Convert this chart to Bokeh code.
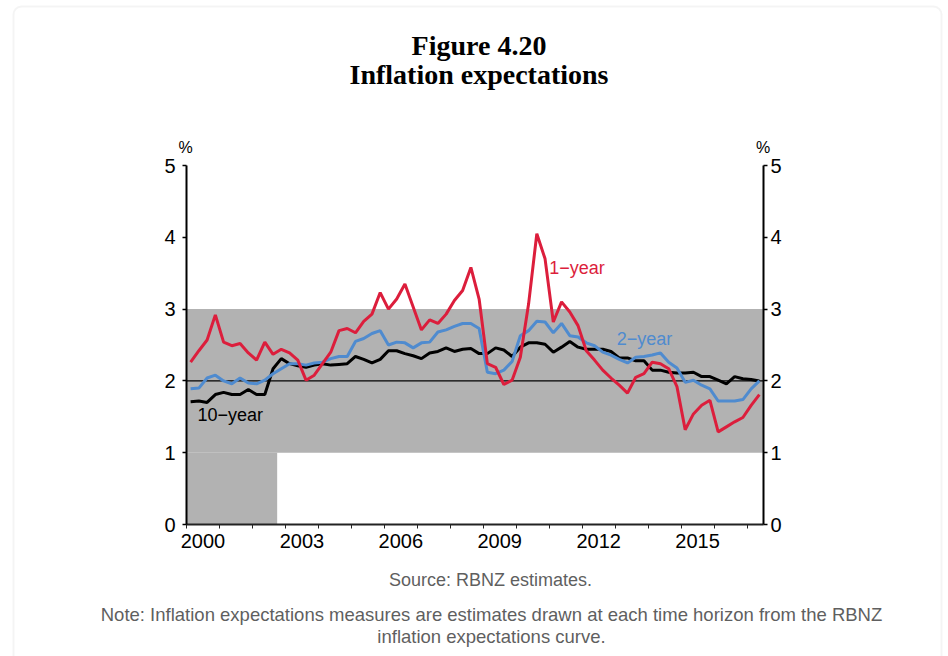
from bokeh.plotting import figure
from bokeh.models import (Range1d, LinearAxis, FixedTicker, CustomJSTickFormatter,
                          Label, BoxAnnotation, ColumnDataSource)
from bokeh.embed import file_html
from bokeh.resources import INLINE

# ---------------- data ----------------
# quarterly observations, 2000Q1 .. 2017Q2
quarters = [f"{y}Q{q}" for y in range(2000, 2018) for q in range(1, 5)][:70]

one_year = [2.26, 2.42, 2.57, 2.92, 2.54, 2.49, 2.52, 2.39, 2.29, 2.54, 2.37, 2.44,
            2.39, 2.29, 2.01, 2.08, 2.24, 2.40, 2.70, 2.73, 2.67, 2.83, 2.93, 3.23,
            3.00, 3.14, 3.35, 3.03, 2.71, 2.85, 2.80, 2.93, 3.12, 3.26, 3.58,
            3.14, 2.24, 2.19, 1.95, 2.01, 2.33, 3.07, 4.05, 3.70, 2.82, 3.10, 2.96, 2.77,
            2.42, 2.29, 2.15, 2.04, 1.94, 1.83, 2.05, 2.10, 2.26, 2.24, 2.17, 1.92,
            1.32, 1.54, 1.66, 1.73, 1.29, 1.36, 1.43, 1.49, 1.66, 1.81]

two_year = [1.89, 1.90, 2.04, 2.08, 2.00, 1.96, 2.04, 1.97, 1.96, 2.01, 2.10, 2.17,
            2.24, 2.24, 2.22, 2.25, 2.26, 2.31, 2.34, 2.34,
            2.55, 2.59, 2.66, 2.70, 2.50, 2.54, 2.53, 2.46, 2.53, 2.54, 2.68, 2.71,
            2.76, 2.80, 2.80,
            2.73, 2.12, 2.10, 2.15, 2.27, 2.63, 2.70, 2.83, 2.82, 2.67, 2.80,
            2.63, 2.61, 2.53, 2.49, 2.40, 2.36, 2.30, 2.25, 2.33, 2.34, 2.36, 2.39,
            2.26, 2.18, 1.98, 2.01, 1.94, 1.89, 1.72, 1.72, 1.72, 1.74, 1.89, 2.00]

ten_year = [1.71, 1.72, 1.70, 1.81, 1.84, 1.81, 1.81, 1.88, 1.81, 1.81, 2.17, 2.31,
            2.24, 2.21, 2.19, 2.22, 2.24, 2.22, 2.23, 2.24,
            2.34, 2.30, 2.25, 2.30, 2.42, 2.42, 2.38, 2.35, 2.31, 2.39, 2.41, 2.46,
            2.41, 2.44, 2.45,
            2.38, 2.38, 2.46, 2.43, 2.34, 2.47, 2.53, 2.53, 2.51, 2.40, 2.47,
            2.55, 2.47, 2.44, 2.44, 2.44, 2.41, 2.32, 2.32, 2.28, 2.28, 2.15, 2.15,
            2.12, 2.11, 2.11, 2.12, 2.06, 2.06, 2.01, 1.96, 2.06, 2.03, 2.02, 2.00]

# inflation target bands (PTA): 0-3% until Sep 2002, then 1-3%
band_left = [2000.0, 2000.0]
band_right = [2002.75, 2017.5]
band_bottom = [0.0, 1.0]
band_top = [1.0, 3.0]

year_labels = [2000, 2003, 2006, 2009, 2012, 2015]
y_ticks = [0, 1, 2, 3, 4, 5]
X0, X1 = 2000.0, 2017.5
Y0, Y1 = 0.0, 5.0

# mid-quarter decimal dates
t = [int(s[:4]) + (int(s[-1]) - 1) * 0.25 + 0.125 for s in quarters]
src = ColumnDataSource(dict(t=t, one=one_year, two=two_year, ten=ten_year))

RED = "#DC1E3C"
BLUE = "#4F8BCF"
GREY = "#B2B2B2"
SANS = "Liberation Sans"

# ---------------- layout geometry (canvas pixels) ----------------
W, H = 948, 656
AX_L, AX_R, AX_T, AX_B = 186, 763, 165, 524   # axes box on the canvas
kx = (AX_R - AX_L) / (X1 - X0)
ky = (AX_B - AX_T) / (Y1 - Y0)
xr = Range1d(X0 - AX_L / kx, X1 + (W - AX_R) / kx)
yr_ = Range1d(Y0 - (H - AX_B) / ky, Y1 + AX_T / ky)

p = figure(width=W, height=H, output_backend="svg", toolbar_location=None,
           x_range=xr, y_range=yr_, min_border=0,
           x_axis_location=None, y_axis_location=None)
p.title.visible = False
p.outline_line_color = None
p.xgrid.visible = False
p.ygrid.visible = False
p.background_fill_color = "white"
p.border_fill_color = "white"

# card border
p.add_layout(BoxAnnotation(left=13, right=941, top=H - 6, bottom=-60,
                           left_units="screen", right_units="screen",
                           top_units="screen", bottom_units="screen",
                           fill_color=None, fill_alpha=0, line_color="#d9d9d9",
                           line_width=2, border_radius=8, level="underlay"))

# band
p.quad(left=band_left, right=band_right, bottom=band_bottom, top=band_top,
       fill_color=GREY, line_color=None)
# 2% line
p.segment(x0=[X0], x1=[X1], y0=[2], y1=[2], line_color="black", line_width=1.2)

p.line("t", "ten", source=src, line_color="black", line_width=3)
p.line("t", "two", source=src, line_color=BLUE, line_width=3)
p.line("t", "one", source=src, line_color=RED, line_width=3)

# ---------------- axes ----------------
def style_y(ax):
    ax.ticker = FixedTicker(ticks=y_ticks)
    ax.bounds = (Y0, Y1)
    ax.axis_line_width = 2
    ax.axis_line_color = "black"
    ax.major_tick_line_color = "black"
    ax.major_tick_line_width = 1.5
    ax.major_tick_out = 4
    ax.major_tick_in = 0
    ax.minor_tick_line_color = None
    ax.major_label_text_font = SANS
    ax.major_label_text_font_size = "20px"
    ax.major_label_text_color = "black"

yl = LinearAxis(fixed_location=X0)
style_y(yl)
yl.major_label_standoff = 7
p.add_layout(yl, "left")

yr = LinearAxis(fixed_location=X1)
style_y(yr)
yr.major_label_standoff = 3
p.add_layout(yr, "right")

xa = LinearAxis(fixed_location=Y0)
xa.bounds = (X0, X1)
xa.ticker = FixedTicker(ticks=[y + 0.5 for y in year_labels],
                        minor_ticks=list(range(2000, 2018)))
xa.formatter = CustomJSTickFormatter(code="return Math.floor(tick).toString();")
xa.axis_line_width = 2
xa.axis_line_color = "#222222"
xa.major_tick_line_color = None
xa.major_tick_out = 0
xa.major_tick_in = 0
xa.minor_tick_line_color = "#222222"
xa.minor_tick_line_width = 1
xa.minor_tick_out = 4
xa.minor_tick_in = 0
xa.major_label_standoff = 5
xa.major_label_text_font = SANS
xa.major_label_text_font_size = "20px"
xa.major_label_text_color = "black"
p.add_layout(xa, "below")

# ---------------- texts ----------------
def dlabel(x, y, text, color):
    p.add_layout(Label(x=x, y=y, text=text, text_color=color,
                       text_font=SANS, text_font_size="18px",
                       text_align="left", text_baseline="alphabetic"))

dlabel(2011.0, 3.57, "1\u2212year", RED)
dlabel(2013.05, 2.585, "2\u2212year", BLUE)
dlabel(2000.33, 1.52, "10\u2212year", "black")

def slabel(px, py, text, size, color="black", font=SANS, style="normal", align="center"):
    p.add_layout(Label(x=px, y=H - py, x_units="screen", y_units="screen",
                       text=text, text_color=color, text_font=font,
                       text_font_size=size, text_font_style=style,
                       text_align=align, text_baseline="alphabetic"))

slabel(478.5, 45, "Figure 4.20", "28px", font="Liberation Serif", style="bold")
slabel(478.5, 74, "Inflation expectations", "28px", font="Liberation Serif", style="bold")
slabel(185, 147, "%", "16px")
slabel(762.5, 147, "%", "16px")
slabel(490, 579, "Source: RBNZ estimates.", "18px", color="#5f5f5f")
slabel(491, 614, "Note: Inflation expectations measures are estimates drawn at each time horizon from the RBNZ",
       "18.5px", color="#5f5f5f")
slabel(491, 636, "inflation expectations curve.", "18.5px", color="#5f5f5f")

open("out.html", "w").write(file_html(p, INLINE))
